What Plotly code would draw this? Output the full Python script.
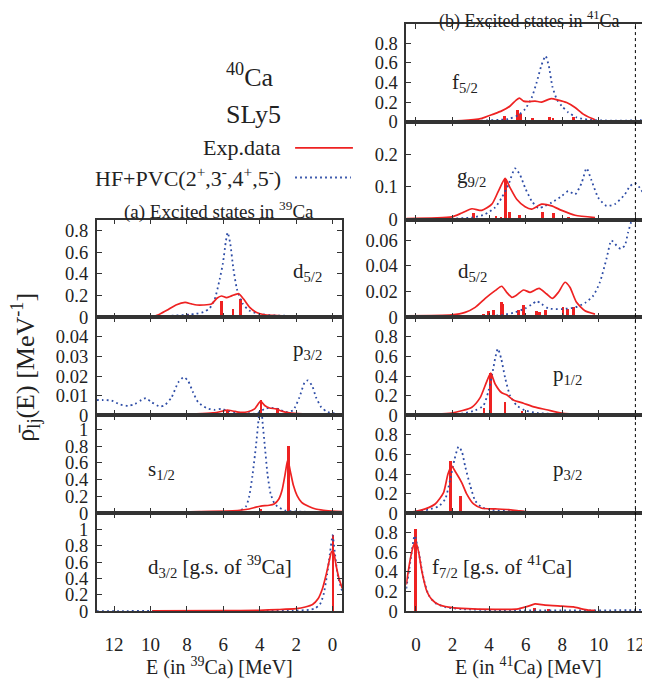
import plotly.graph_objects as go

# page body has an 8px margin, so the figure is drawn 8px smaller and every
# pixel position below is measured on the 650x693 page
PAGE_OFF = 8
W, H = 650 - PAGE_OFF, 693 - PAGE_OFF

# ---------------- 39Ca (a), E in MeV, rho in MeV^-1 ----------------
a_d52_exp_E = [9.9, 9.5, 9.1, 8.6, 8.1, 7.75, 7.45, 7.1, 6.65, 6.35, 6.1, 5.83, 5.55, 5.15, 4.9, 4.55, 4.2, 3.8, 3.3, 2.5, 1.5, 0.5, -0.53]
a_d52_exp_rho = [0.005, 0.03, 0.065, 0.115, 0.138, 0.124, 0.114, 0.114, 0.123, 0.176, 0.197, 0.182, 0.198, 0.218, 0.172, 0.093, 0.048, 0.027, 0.018, 0.013, 0.009, 0.007, 0.006]
a_d52_pvc_E = [12.95, 10.0, 8.6, 7.85, 7.5, 7.1, 6.75, 6.47, 6.2, 6.02, 5.86, 5.76, 5.62, 5.45, 5.25, 4.95, 4.58, 4.05, 3.1, 1.0, -0.53]
a_d52_pvc_rho = [0.009, 0.009, 0.018, 0.027, 0.033, 0.048, 0.084, 0.168, 0.35, 0.5, 0.70, 0.78, 0.68, 0.45, 0.26, 0.13, 0.063, 0.033, 0.018, 0.01, 0.009]
a_d52_bar_E = [8.55, 7.95, 7.31, 6.55, 6.12, 5.49, 5.08]
a_d52_bar_S = [0.008, 0.04, 0.03, 0.006, 0.155, 0.08, 0.17]

a_p32_exp_E = [9.85, 7.47, 6.56, 6.02, 5.78, 5.47, 5.10, 4.65, 4.28, 3.95, 3.73, 3.46, 3.10, 2.82, 2.37, 1.64, -0.53]
a_p32_exp_rho = [0.0005, 0.0007, 0.0012, 0.0022, 0.0027, 0.0022, 0.0015, 0.0018, 0.0033, 0.0072, 0.005, 0.0037, 0.0033, 0.0022, 0.0012, 0.0007, 0.0003]
a_p32_pvc_E = [12.95, 12.59, 12.13, 11.67, 11.22, 10.85, 10.49, 10.25, 9.94, 9.48, 9.21, 8.84, 8.48, 8.17, 7.93, 7.66, 7.38, 6.93, 6.47, 6.11, 5.83, 5.29, 4.74, 4.19, 3.73, 3.46, 3.0, 2.55, 2.18, 1.82, 1.54, 1.36, 1.12, 0.91, 0.63, 0.27, -0.53]
a_p32_pvc_rho = [0.0078, 0.0078, 0.0075, 0.0055, 0.0048, 0.0058, 0.0078, 0.0088, 0.0067, 0.0045, 0.0052, 0.0092, 0.0167, 0.0195, 0.0175, 0.0117, 0.0067, 0.0037, 0.0028, 0.0033, 0.0025, 0.0015, 0.0012, 0.0008, 0.0033, 0.0038, 0.0033, 0.0017, 0.0025, 0.0092, 0.0167, 0.0178, 0.015, 0.0092, 0.0042, 0.0017, 0.0005]
a_p32_bar_E = [5.80, 3.94, 3.03]
a_p32_bar_S = [0.0025, 0.0075, 0.0033]

a_s12_exp_E = [9.87, 7.31, 5.49, 4.58, 4.21, 3.94, 3.48, 3.21, 2.95, 2.78, 2.62, 2.46, 2.32, 2.15, 1.95, 1.7, 1.3, 0.93, 0.5, 0.02, -0.53]
a_s12_exp_rho = [0.003, 0.02, 0.028, 0.05, 0.072, 0.085, 0.095, 0.11, 0.17, 0.27, 0.45, 0.64, 0.5, 0.33, 0.21, 0.13, 0.08, 0.05, 0.035, 0.024, 0.02]
a_s12_pvc_E = [12.95, 6.0, 5.49, 5.12, 4.76, 4.58, 4.4, 4.21, 4.05, 3.95, 3.85, 3.72, 3.57, 3.40, 3.2, 3.03, 2.57, 2.0, -0.53]
a_s12_pvc_rho = [0.0, 0.005, 0.01, 0.028, 0.08, 0.2, 0.45, 0.8, 1.15, 1.35, 1.1, 0.8, 0.46, 0.23, 0.12, 0.08, 0.03, 0.02, 0.01]
a_s12_bar_E = [3.97, 2.44]
a_s12_bar_S = [0.05, 0.80]

a_d32_exp_E = [9.9, 6.0, 4.0, 3.0, 2.0, 1.5, 1.1, 0.8, 0.55, 0.35, 0.18, 0.05, -0.05, -0.2, -0.35, -0.53]
a_d32_exp_rho = [0.002, 0.005, 0.01, 0.018, 0.03, 0.05, 0.08, 0.15, 0.28, 0.45, 0.62, 0.73, 0.72, 0.55, 0.4, 0.28]
a_d32_pvc_E = [12.95, 4.0, 2.0, 1.3, 1.0, 0.7, 0.5, 0.3, 0.15, 0.0, -0.12, -0.3, -0.53]
a_d32_pvc_rho = [0.0, 0.003, 0.006, 0.015, 0.03, 0.08, 0.2, 0.45, 0.7, 0.93, 0.72, 0.42, 0.24]
a_d32_bar_E = [0.0]
a_d32_bar_S = [0.93]

# ---------------- 41Ca (b) ----------------
b_f52_exp_E = [-0.53, 0.0, 2.51, 3.6, 4.24, 4.69, 5.15, 5.48, 5.66, 5.88, 6.15, 6.51, 6.87, 7.39, 7.79, 8.24, 8.70, 9.15, 9.6, 9.79]
b_f52_exp_rho = [0.003, 0.003, 0.01, 0.034, 0.077, 0.11, 0.16, 0.22, 0.24, 0.21, 0.205, 0.21, 0.2, 0.235, 0.22, 0.195, 0.145, 0.077, 0.034, 0.02]
b_f52_pvc_E = [-0.53, 3.0, 5.06, 5.6, 5.97, 6.33, 6.60, 6.87, 7.09, 7.27, 7.46, 7.70, 7.97, 8.33, 8.78, 9.42, 10.69, 11.97, 12.7]
b_f52_pvc_rho = [0.003, 0.008, 0.027, 0.067, 0.128, 0.245, 0.40, 0.58, 0.67, 0.565, 0.36, 0.23, 0.16, 0.094, 0.044, 0.02, 0.01, 0.013, 0.02]
b_f52_bar_E = [4.84, 5.57, 5.75, 6.37, 6.66, 7.33, 7.51, 7.97, 8.19, 8.61]
b_f52_bar_S = [0.06, 0.118, 0.077, 0.04, 0.02, 0.054, 0.04, 0.02, 0.02, 0.054]

b_g92_exp_E = [-0.53, 1.96, 2.51, 3.06, 3.6, 4.15, 4.51, 4.88, 5.15, 5.51, 5.97, 6.33, 6.87, 7.42, 7.97, 8.70, 9.79]
b_g92_exp_rho = [0.003, 0.008, 0.02, 0.033, 0.028, 0.047, 0.087, 0.126, 0.097, 0.062, 0.039, 0.032, 0.047, 0.042, 0.028, 0.013, 0.006]
b_g92_pvc_E = [-0.53, 3.06, 3.78, 4.33, 4.69, 5.06, 5.42, 5.69, 5.97, 6.33, 6.69, 7.06, 7.42, 7.97, 8.33, 8.70, 9.06, 9.33, 9.60, 9.97, 10.42, 10.87, 11.42, 11.70, 11.97, 12.24, 12.7]
b_g92_pvc_rho = [0.001, 0.006, 0.016, 0.037, 0.067, 0.107, 0.157, 0.137, 0.097, 0.057, 0.035, 0.042, 0.052, 0.072, 0.087, 0.077, 0.112, 0.157, 0.12, 0.067, 0.042, 0.047, 0.077, 0.102, 0.112, 0.097, 0.057]
b_g92_bar_E = [3.15, 4.39, 4.66, 4.93, 5.15, 5.69, 6.93, 7.55, 8.37]
b_g92_bar_S = [0.02, 0.013, 0.008, 0.126, 0.025, 0.016, 0.023, 0.02, 0.01]

b_d52_exp_E = [-0.53, 1.96, 2.69, 3.24, 3.79, 4.33, 4.69, 4.96, 5.24, 5.51, 5.88, 6.24, 6.73, 7.15, 7.47, 7.79, 8.15, 8.42, 8.78, 9.24, 9.79]
b_d52_exp_rho = [0.0013, 0.002, 0.0039, 0.0078, 0.0148, 0.0208, 0.0242, 0.0195, 0.0156, 0.0174, 0.0213, 0.0195, 0.0226, 0.0182, 0.0148, 0.0195, 0.0273, 0.0234, 0.0117, 0.0052, 0.0026]
b_d52_pvc_E = [-0.53, 2.87, 3.97, 4.69, 5.42, 5.97, 6.37, 6.60, 6.87, 7.24, 7.97, 8.70, 9.24, 9.70, 10.06, 10.42, 10.69, 10.97, 11.20, 11.42, 11.60, 11.82, 12.0, 12.7]
b_d52_pvc_rho = [0.0005, 0.0008, 0.001, 0.0018, 0.0039, 0.007, 0.0104, 0.0127, 0.0104, 0.007, 0.0065, 0.0078, 0.0112, 0.0169, 0.0273, 0.0455, 0.0597, 0.0558, 0.0532, 0.0558, 0.066, 0.0766, 0.085, 0.1]
b_d52_bar_E = [3.69, 4.0, 4.24, 4.69, 4.78, 5.64, 5.91, 6.19, 6.62, 6.78, 7.1, 8.06, 8.3, 8.64]
b_d52_bar_S = [0.0034, 0.0052, 0.0065, 0.0122, 0.011, 0.0065, 0.0101, 0.0018, 0.0052, 0.0044, 0.0065, 0.0086, 0.0068, 0.0086]

b_p12_exp_E = [-0.53, 1.96, 3.06, 3.51, 3.88, 4.09, 4.33, 4.69, 4.96, 5.33, 5.88, 6.51, 7.15, 7.97, 9.06, 9.79]
b_p12_exp_rho = [0.007, 0.023, 0.083, 0.18, 0.35, 0.43, 0.32, 0.23, 0.21, 0.157, 0.123, 0.083, 0.057, 0.023, 0.007, 0.003]
b_p12_pvc_E = [-0.53, 2.51, 3.24, 3.69, 3.97, 4.2, 4.33, 4.48, 4.66, 4.88, 5.15, 5.51, 5.97, 6.69, 7.97, 10.69, 12.7]
b_p12_pvc_rho = [0.003, 0.017, 0.05, 0.1, 0.25, 0.45, 0.58, 0.68, 0.58, 0.38, 0.2, 0.1, 0.05, 0.023, 0.01, 0.007, 0.003]
b_p12_bar_E = [3.74, 4.09, 4.88, 5.24, 5.53, 5.82, 6.06, 6.30, 6.55]
b_p12_bar_S = [0.067, 0.43, 0.133, 0.017, 0.017, 0.04, 0.023, 0.023, 0.023]

b_p32_exp_E = [-0.53, 0.0, 0.51, 1.05, 1.51, 1.75, 1.95, 2.2, 2.51, 2.78, 3.15, 3.60, 4.33, 5.06, 5.60, 6.15, 7.97, 9.79]
b_p32_exp_rho = [0.01, 0.02, 0.044, 0.094, 0.21, 0.40, 0.48, 0.41, 0.31, 0.195, 0.094, 0.05, 0.044, 0.037, 0.024, 0.013, 0.01, 0.007]
b_p32_pvc_E = [-0.53, 0.0, 0.69, 1.24, 1.60, 1.88, 2.11, 2.33, 2.51, 2.69, 2.97, 3.24, 3.60, 4.15, 5.24, 7.06, 12.7]
b_p32_pvc_rho = [0.007, 0.017, 0.037, 0.07, 0.145, 0.35, 0.55, 0.68, 0.63, 0.48, 0.28, 0.128, 0.06, 0.034, 0.02, 0.01, 0.007]
b_p32_bar_E = [1.90, 2.44, 3.64, 4.53]
b_p32_bar_S = [0.53, 0.168, 0.01, 0.024]

b_f72_exp_E = [-0.53, -0.31, -0.13, 0.0, 0.15, 0.33, 0.6, 0.87, 1.24, 1.78, 2.51, 4.33, 5.60, 6.15, 6.51, 7.06, 7.97, 8.61, 9.06, 9.42, 9.79]
b_f72_exp_rho = [0.27, 0.53, 0.67, 0.7, 0.6, 0.4, 0.2, 0.117, 0.067, 0.04, 0.027, 0.017, 0.023, 0.05, 0.073, 0.06, 0.05, 0.043, 0.023, 0.01, 0.007]
b_f72_pvc_E = [-0.53, -0.31, -0.07, 0.15, 0.42, 0.69, 1.05, 1.6, 2.51, 4.33, 7.97, 11.97, 12.7]
b_f72_pvc_rho = [0.23, 0.5, 0.77, 0.6, 0.33, 0.167, 0.083, 0.04, 0.02, 0.01, 0.007, 0.01, 0.017]
b_f72_bar_E = [0.0, 6.51, 7.27]
b_f72_bar_S = [0.84, 0.027, 0.013]

threshold_E = 12.0  # dotted line in (b)

x_ticks = [0, 2, 4, 6, 8, 10, 12]

RED = "#ee2222"
BLUE = "#2d4ca6"
FRAME = "#333333"
FONT = "Liberation Serif"
DOTS = "1.8px,3.2px"


def fx(p):
    return (p - PAGE_OFF) / W


def fy(p):
    return 1 - (p - PAGE_OFF) / H


row_px = [24 + i * 596 / 6 for i in range(7)]
col_px = {"L": (97, 343.3), "R": (407.5, 650)}
x_range = {"L": [12.95, -0.53], "R": [-0.53, 12.69]}

# column, row, y range, y ticks, data, label, label anchor (px)
panels = [
    ("L", 2, [0, 0.9], [0, 0.2, 0.4, 0.6, 0.8],
     (a_d52_pvc_E, a_d52_pvc_rho, a_d52_exp_E, a_d52_exp_rho, a_d52_bar_E, a_d52_bar_S),
     "d<sub>5/2</sub>", 292, 276),
    ("L", 3, [0, 0.05], [0, 0.01, 0.02, 0.03, 0.04],
     (a_p32_pvc_E, a_p32_pvc_rho, a_p32_exp_E, a_p32_exp_rho, a_p32_bar_E, a_p32_bar_S),
     "p<sub>3/2</sub>", 292, 355),
    ("L", 4, [0, 1.17], [0, 0.2, 0.4, 0.6, 0.8, 1],
     (a_s12_pvc_E, a_s12_pvc_rho, a_s12_exp_E, a_s12_exp_rho, a_s12_bar_E, a_s12_bar_S),
     "s<sub>1/2</sub>", 146, 477),
    ("L", 5, [0, 1.2], [0, 0.2, 0.4, 0.6, 0.8, 1],
     (a_d32_pvc_E, a_d32_pvc_rho, a_d32_exp_E, a_d32_exp_rho, a_d32_bar_E, a_d32_bar_S),
     "d<sub>3/2</sub> [g.s. of <sup>39</sup>Ca]", 146, 575),
    ("R", 0, [0, 1.0], [0, 0.2, 0.4, 0.6, 0.8],
     (b_f52_pvc_E, b_f52_pvc_rho, b_f52_exp_E, b_f52_exp_rho, b_f52_bar_E, b_f52_bar_S),
     "f<sub>5/2</sub>", 451, 84),
    ("R", 1, [0, 0.3], [0, 0.1, 0.2],
     (b_g92_pvc_E, b_g92_pvc_rho, b_g92_exp_E, b_g92_exp_rho, b_g92_bar_E, b_g92_bar_S),
     "g<sub>9/2</sub>", 456, 180),
    ("R", 2, [0, 0.076], [0, 0.02, 0.04, 0.06],
     (b_d52_pvc_E, b_d52_pvc_rho, b_d52_exp_E, b_d52_exp_rho, b_d52_bar_E, b_d52_bar_S),
     "d<sub>5/2</sub>", 457, 276),
    ("R", 3, [0, 1.0], [0, 0.2, 0.4, 0.6, 0.8],
     (b_p12_pvc_E, b_p12_pvc_rho, b_p12_exp_E, b_p12_exp_rho, b_p12_bar_E, b_p12_bar_S),
     "p<sub>1/2</sub>", 553, 380),
    ("R", 4, [0, 1.0], [0, 0.2, 0.4, 0.6, 0.8],
     (b_p32_pvc_E, b_p32_pvc_rho, b_p32_exp_E, b_p32_exp_rho, b_p32_bar_E, b_p32_bar_S),
     "p<sub>3/2</sub>", 553, 477),
    ("R", 5, [0, 1.0], [0, 0.2, 0.4, 0.6, 0.8],
     (b_f72_pvc_E, b_f72_pvc_rho, b_f72_exp_E, b_f72_exp_rho, b_f72_bar_E, b_f72_bar_S),
     "f<sub>7/2</sub> [g.s. of <sup>41</sup>Ca]", 431, 575),
]

fig = go.Figure()
layout = {}
annotations = []

for i, (col, row, yr, yt, data, label, lx, ly) in enumerate(panels):
    n = i + 1
    xa = "x" if n == 1 else f"x{n}"
    ya = "y" if n == 1 else f"y{n}"
    pvc_E, pvc_rho, exp_E, exp_rho, bar_E, bar_S = data

    fig.add_trace(go.Scatter(
        x=pvc_E, y=pvc_rho, mode="lines", xaxis=xa, yaxis=ya,
        line=dict(color=BLUE, width=1.8, dash=DOTS, shape="spline", smoothing=0.6),
        showlegend=False, hoverinfo="skip"))
    fig.add_trace(go.Scatter(
        x=exp_E, y=exp_rho, mode="lines", xaxis=xa, yaxis=ya,
        line=dict(color=RED, width=1.7, shape="spline", smoothing=0.6),
        showlegend=False, hoverinfo="skip"))
    fig.add_trace(go.Bar(
        x=bar_E, y=bar_S, width=0.15, xaxis=xa, yaxis=ya,
        marker=dict(color=RED, line=dict(width=0)),
        showlegend=False, hoverinfo="skip"))

    x0, x1 = col_px[col]
    bottom = row == 5
    layout["xaxis" if n == 1 else f"xaxis{n}"] = dict(
        domain=[fx(x0), min(fx(x1), 1.0)], anchor=ya, range=x_range[col],
        tickmode="array", tickvals=x_ticks, ticktext=[str(v) for v in x_ticks],
        showticklabels=bottom, ticks="inside", ticklen=5, tickwidth=1.2,
        tickcolor=FRAME, mirror="ticks", showline=True, linecolor=FRAME,
        linewidth=1.6, showgrid=False, zeroline=False, ticklabelstandoff=15,
        ticklabeloverflow="allow",
        tickfont=dict(family=FONT, size=19, color="#222"))
    layout["yaxis" if n == 1 else f"yaxis{n}"] = dict(
        domain=[fy(row_px[row + 1]), fy(row_px[row])], anchor=xa, range=yr,
        tickmode="array", tickvals=yt, ticktext=[f"{v:g}" for v in yt],
        ticks="inside", ticklen=5, tickwidth=1.2, tickcolor=FRAME,
        mirror="ticks", showline=True, linecolor=FRAME, linewidth=1.6,
        showgrid=False, zeroline=False, ticklabelstandoff=3,
        tickfont=dict(family=FONT, size=18.5, color="#222"))

    annotations.append(dict(
        text=label, x=fx(lx), y=fy(ly), xref="paper", yref="paper",
        xanchor="left", yanchor="middle", showarrow=False,
        font=dict(family=FONT, size=21, color="#222")))

texts = [
    ("<sup>40</sup>Ca", 251, 77, "center", 26),
    ("SLy5", 254, 116, "center", 26),
    ("Exp.data", 284, 150, "right", 22),
    ("HF+PVC(2<sup>+</sup>,3<sup>-</sup>,4<sup>+</sup>,5<sup>-</sup>)", 284, 180, "right", 22),
    ("(a) Excited states in <sup>39</sup>Ca", 220, 213, "center", 19),
    ("(b) Excited states in <sup>41</sup>Ca", 531, 20, "center", 18),
    ("E (in <sup>39</sup>Ca) [MeV]", 220, 676, "center", 20),
    ("E (in <sup>41</sup>Ca) [MeV]", 530, 676, "center", 20),
]
for t, x, y, xa, s in texts:
    annotations.append(dict(
        text=t, x=fx(x), y=fy(y), xref="paper", yref="paper",
        xanchor=xa, yanchor="middle", showarrow=False,
        font=dict(family=FONT, size=s, color="#222")))

annotations.append(dict(
    text="\u03c1\u0304<sub>lj</sub>(E) [MeV<sup>-1</sup>]", textangle=-90,
    x=fx(25), y=fy(372), xref="paper", yref="paper",
    xanchor="center", yanchor="middle", showarrow=False,
    font=dict(family=FONT, size=26, color="#222")))

shapes = [
    # threshold line across the (b) column
    dict(type="line", xref="x5", yref="paper", x0=threshold_E, x1=threshold_E,
         y0=fy(row_px[6]), y1=fy(row_px[0]), line=dict(color="black", width=1, dash="dot")),
    # legend samples
    dict(type="line", xref="paper", yref="paper", x0=fx(296), x1=fx(354),
         y0=fy(150), y1=fy(150), line=dict(color=RED, width=1.8)),
    dict(type="line", xref="paper", yref="paper", x0=fx(296), x1=fx(352),
         y0=fy(180), y1=fy(180), line=dict(color=BLUE, width=1.8, dash=DOTS)),
]

fig.update_layout(
    width=W, height=H, margin=dict(l=0, r=0, t=0, b=0),
    paper_bgcolor="white", plot_bgcolor="white",
    font=dict(family=FONT, color="#222"),
    annotations=annotations, shapes=shapes, bargap=0,
    **layout)

fig.write_html("out.html")
